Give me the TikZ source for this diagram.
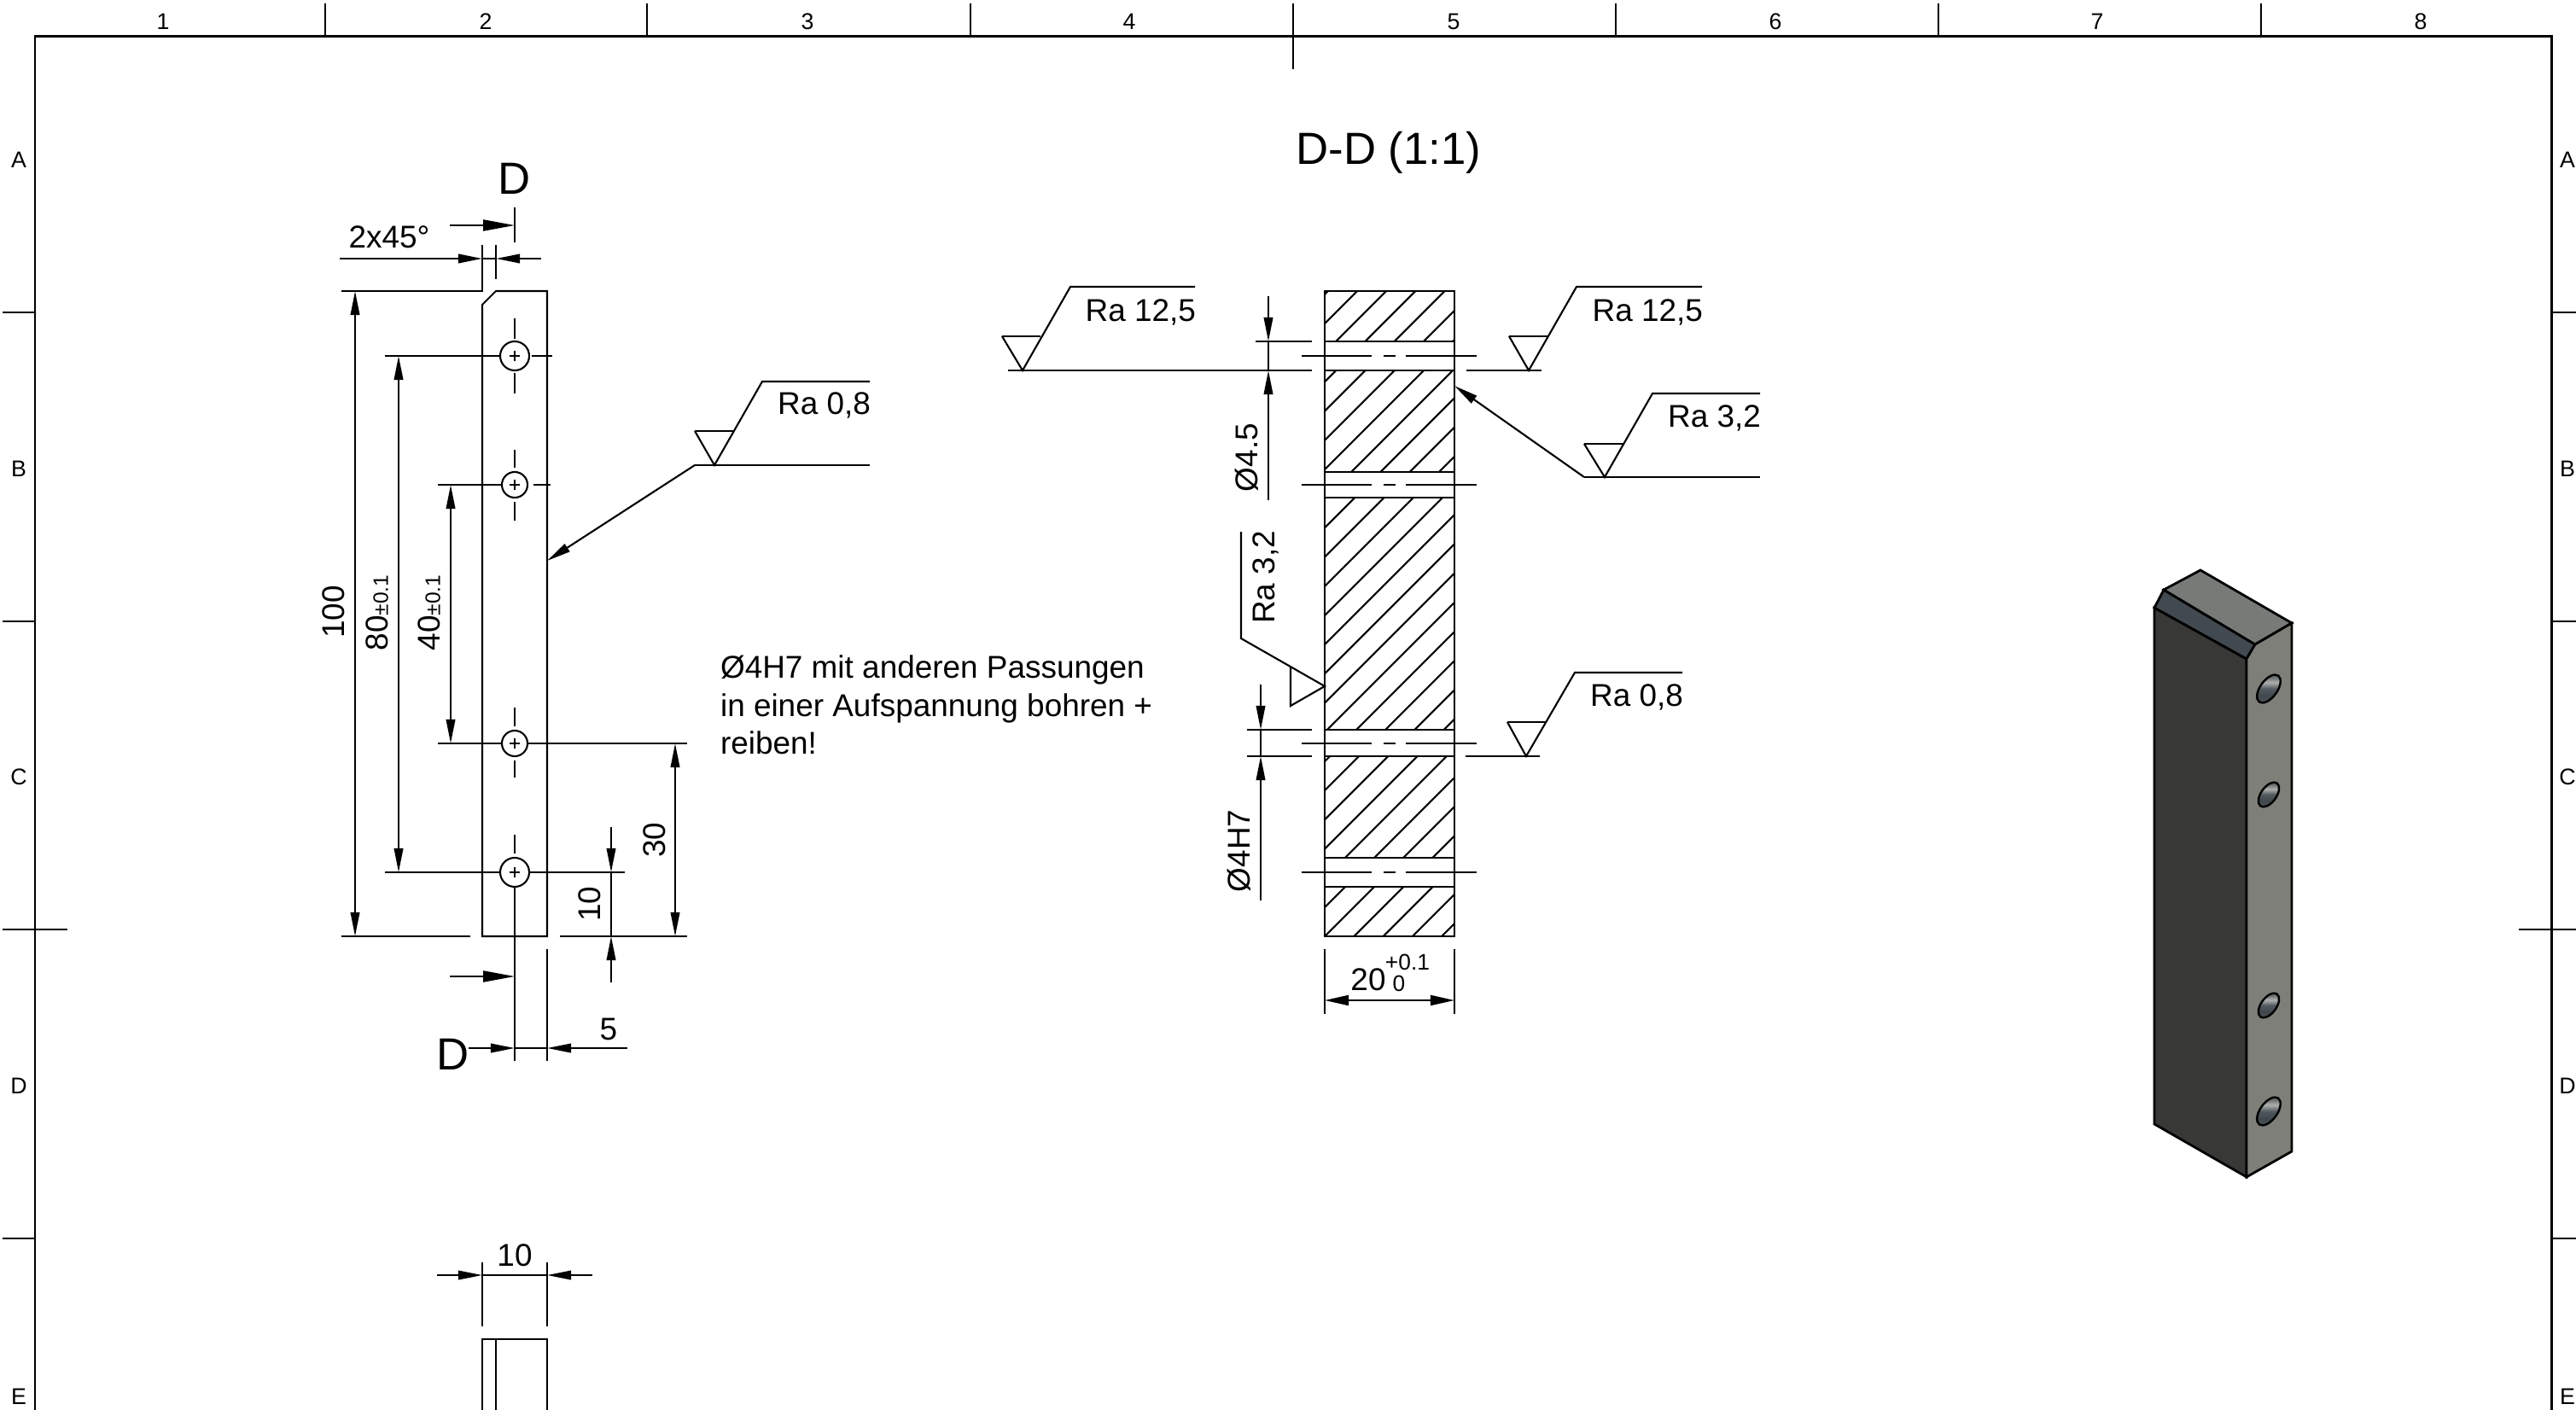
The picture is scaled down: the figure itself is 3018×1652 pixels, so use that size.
\documentclass[tikz,border=0pt]{standalone}
\usepackage{fontspec}
\setmainfont{Liberation Sans}
\usetikzlibrary{arrows.meta}
\pgfdeclareverticalshading{holeshade}{100bp}{rgb(0bp)=(0.33,0.35,0.36);rgb(25bp)=(0.33,0.35,0.36);rgb(38bp)=(0.25,0.28,0.30);rgb(50bp)=(0.32,0.35,0.37);rgb(60bp)=(0.68,0.69,0.68);rgb(68bp)=(0.42,0.44,0.45);rgb(75bp)=(0.36,0.38,0.39);rgb(100bp)=(0.36,0.38,0.39)}

\begin{document}
\begin{tikzpicture}[x=0.01cm,y=-0.01cm,line width=0.6pt,
        dimarrow/.style={-{Triangle[length=8pt,width=3pt]}},
        dimboth/.style={{Triangle[length=8pt,width=3pt]}-{Triangle[length=8pt,width=3pt]}},
        cutarrow/.style={-{Triangle[length=10.5pt,width=3.7pt]}},
        framefont/.style={inner sep=0pt,font=\fontsize{7.6}{9}\selectfont},
        lab/.style={inner sep=0pt,font=\fontsize{10.5}{12.66}\selectfont},
        tollab/.style={inner sep=0pt,font=\fontsize{7.5}{9}\selectfont},
        biglab/.style={inner sep=0pt,font=\fontsize{15}{18}\selectfont},
        framecut/.style={line width=0.85pt},
        thickline/.style={line width=0.8pt},
        holecut/.style={shading=holeshade,draw=black,line width=0.7pt}]
        \useasboundingbox(0,0)rectangle(3018,1652);

        \draw[framecut](41,1652)--(41,43)--(2989,43)--(2989,1652);
        \draw[thickline](381,4)--(381,43);
        \draw[thickline](758,4)--(758,43);
        \draw[thickline](1137,4)--(1137,43);
        \draw[thickline](1515,4)--(1515,81);
        \draw[thickline](1893,4)--(1893,43);
        \draw[thickline](2271,4)--(2271,43);
        \draw[thickline](2649,4)--(2649,43);
        \draw[thickline](3,366)--(41,366);
        \draw[thickline](3,728)--(41,728);
        \draw[thickline](3,1089)--(79,1089);
        \draw[thickline](3,1451)--(41,1451);
        \draw[thickline](2989,366)--(3018,366);
        \draw[thickline](2989,728)--(3018,728);
        \draw[thickline](2951,1089)--(3018,1089);
        \draw[thickline](2989,1451)--(3018,1451);

        \node[framefont](n1)at(191,25){1};
        \node[framefont](n2)at(569,25){2};
        \node[framefont](n3)at(946,25){3};
        \node[framefont](n4)at(1323,25){4};
        \node[framefont](n5)at(1703,25){5};
        \node[framefont](n6)at(2080,25){6};
        \node[framefont](n7)at(2457,25){7};
        \node[framefont](n8)at(2836,25){8};
        \node[framefont](la)at(22,187){A};
        \node[framefont](lb)at(22,549){B};
        \node[framefont](lc)at(22,910){C};
        \node[framefont](ld)at(22,1272){D};
        \node[framefont](le)at(22,1636){E};
        \node[framefont](ra)at(3008,187){A};
        \node[framefont](rb)at(3008,549){B};
        \node[framefont](rc)at(3008,910){C};
        \node[framefont](rd)at(3008,1272){D};
        \node[framefont](re)at(3008,1636){E};

        \node[biglab](title)at(1627,179){D-D (1:1)};

        \draw(565,357)--(581,341)--(641,341)--(641,1097)--(565,1097)--cycle;

        \draw(603,417)circle(17);
        \draw(603,568)circle(15);
        \draw(603,871)circle(15);
        \draw(603,1022)circle(17);
        \draw(597,417)--(609,417);
        \draw(603,411)--(603,423);
        \draw(597,568)--(609,568);
        \draw(603,562)--(603,574);
        \draw(597,871)--(609,871);
        \draw(603,865)--(603,877);
        \draw(597,1022)--(609,1022);
        \draw(603,1016)--(603,1028);

        \draw(603,373)--(603,397);
        \draw(603,437)--(603,461);
        \draw(623,417)--(647,417);
        \draw(603,527)--(603,548);
        \draw(603,588)--(603,610);
        \draw(625,568)--(645,568);
        \draw(603,829)--(603,851);
        \draw(603,891)--(603,911);
        \draw(603,978)--(603,1000);
        \draw(603,1039)--(603,1243);

        \draw(451,417)--(586,417);
        \draw(513,568)--(588,568);
        \draw(513,871)--(588,871);
        \draw(618,871)--(805,871);
        \draw(451,1022)--(586,1022);
        \draw(620,1022)--(732,1022);
        \draw(400,1097)--(551,1097);
        \draw(656,1097)--(805,1097);

        \draw[thickline](603,243)--(603,284);
        \draw[cutarrow](527,264)--(603,264);
        \node[biglab](dtop)at(603,209){D};
        \draw[thickline](603,1125)--(603,1163);
        \draw[cutarrow](527,1144)--(603,1144);
        \node[biglab](dbot)at(531,1235){D};

        \draw(400,341)--(565,341)--(565,287);
        \draw(581,287)--(581,327);
        \draw[dimarrow](398,303)--(565,303);
        \draw[dimarrow](634,303)--(581,303);
        \draw(565,303)--(581,303);
        \node[lab](chamfer)at(456,278){2x45°};

        \draw[dimboth](416,341)--(416,1097);
        \node[lab,rotate=90](t100)at(391,717){100};
        \draw[dimboth](467,417)--(467,1022);
        \node[lab,rotate=90](t80)at(442,718){80{\fontsize{7}{8}\selectfont ±0.1}};
        \draw[dimboth](528,568)--(528,871);
        \node[lab,rotate=90](t40)at(503,718){40{\fontsize{7}{8}\selectfont ±0.1}};
        \draw[dimboth](791,871)--(791,1097);
        \node[lab,rotate=90](t30)at(767,984){30};
        \draw[dimarrow](716,969)--(716,1022);
        \draw[dimarrow](716,1151)--(716,1097);
        \draw(716,1022)--(716,1097);
        \node[lab,rotate=90](t10)at(691,1059){10};

        \draw(641,1112)--(641,1243);
        \draw[dimarrow](549,1228)--(603,1228);
        \draw[dimarrow](735,1228)--(641,1228);
        \draw(603,1228)--(641,1228);
        \node[lab](t5)at(713,1206){5};

        \draw(814,545)--(1019,545);
        \draw(814,505)--(860,505);
        \draw(814,505)--(837,545)--(893,447)--(1019,447);
        \draw[dimarrow](814,545)--(641,657);
        \node[lab,anchor=east](ra08)at(1021,475){Ra 0,8};

        \node[lab,anchor=west,align=left](note)at(843,826){Ø4H7 mit anderen Passungen\\in einer Aufspannung bohren +\\reiben!};

        \draw(565,1479)--(565,1554);
        \draw(641,1479)--(641,1554);
        \draw(565,1494)--(641,1494);
        \draw[dimarrow](512,1494)--(565,1494);
        \draw[dimarrow](694,1494)--(641,1494);
        \node[lab](t10w)at(603,1471){10};
        \draw(565,1652)--(565,1569)--(641,1569)--(641,1652);
        \draw(581,1569)--(581,1652);

        \begin{scope}
            \clip(1552,341)rectangle(1704,400)(1552,434)rectangle(1704,553)(1552,583)rectangle(1704,855)(1552,886)rectangle(1704,1005)(1552,1039)rectangle(1704,1097);
            \foreach \k in {-1,...,25}{
                \pgfmathsetmacro\hatchsum{1931+34.2*\k}
                \draw(1552,{\hatchsum-1552})--(1704,{\hatchsum-1704});
            }
        \end{scope}
        \draw(1552,341)rectangle(1704,1097);
        \draw[thickline](1552,400)--(1704,400);
        \draw[thickline](1552,434)--(1704,434);
        \draw[thickline](1552,553)--(1704,553);
        \draw[thickline](1552,583)--(1704,583);
        \draw[thickline](1552,855)--(1704,855);
        \draw[thickline](1552,886)--(1704,886);
        \draw[thickline](1552,1005)--(1704,1005);
        \draw[thickline](1552,1039)--(1704,1039);

        \draw(1525,417)--(1607,417);
        \draw(1621,417)--(1635,417);
        \draw(1647,417)--(1730,417);
        \draw(1525,568)--(1607,568);
        \draw(1621,568)--(1635,568);
        \draw(1647,568)--(1730,568);
        \draw(1525,871)--(1607,871);
        \draw(1621,871)--(1635,871);
        \draw(1647,871)--(1730,871);
        \draw(1525,1022)--(1607,1022);
        \draw(1621,1022)--(1635,1022);
        \draw(1647,1022)--(1730,1022);

        \draw(1471,400)--(1537,400);
        \draw[thickline](1181,434)--(1537,434);
        \draw[dimarrow](1486,347)--(1486,400);
        \draw[dimarrow](1486,586)--(1486,434);
        \draw(1486,400)--(1486,434);
        \node[lab,rotate=90](d45)at(1461,536){Ø4.5};

        \draw(1174,394)--(1219,394);
        \draw(1174,394)--(1198,434)--(1254,336)--(1400,336);
        \node[lab,anchor=east](ra125l)at(1402,366){Ra 12,5};

        \draw(1718,434)--(1806,434);
        \draw(1768,394)--(1813,394);
        \draw(1768,394)--(1791,434)--(1847,336)--(1994,336);
        \node[lab,anchor=east](ra125r)at(1996,366){Ra 12,5};

        \draw(1856,559)--(2062,559);
        \draw(1856,520)--(1903,520);
        \draw(1856,520)--(1880,559)--(1936,461)--(2062,461);
        \draw[dimarrow](1856,559)--(1704,452);
        \node[lab,anchor=east](ra32r)at(2064,490){Ra 3,2};

        \draw(1454,623)--(1454,748)--(1552,804)--(1512,827)--(1512,781);
        \node[lab,rotate=90,anchor=east](ra32l)at(1483,621){Ra 3,2};

        \draw(1717,886)--(1804,886);
        \draw(1766,846)--(1811,846);
        \draw(1766,846)--(1788,886)--(1845,788)--(1971,788);
        \node[lab,anchor=east](ra08s)at(1973,817){Ra 0,8};

        \draw(1461,855)--(1537,855);
        \draw(1461,886)--(1537,886);
        \draw[dimarrow](1477,802)--(1477,855);
        \draw[dimarrow](1477,1055)--(1477,886);
        \draw(1477,855)--(1477,886);
        \node[lab,rotate=90](d4h7)at(1452,997){Ø4H7};

        \draw(1552,1112)--(1552,1188);
        \draw(1704,1112)--(1704,1188);
        \draw[{Triangle[length=8pt,width=3.4pt]}-{Triangle[length=8pt,width=3.4pt]}](1552,1172)--(1704,1172);
        \node[lab](t20)at(1603,1148){20};
        \node[tollab](tplus)at(1649,1127){+0.1};
        \node[tollab](tzero)at(1639,1152){0};

        \filldraw[fill={rgb,255:red,56;green,56;blue,54},draw=black,thickline](2524,712)--(2632,772)--(2632,1379)--(2524,1317)--cycle;
        \filldraw[fill={rgb,255:red,65;green,74;blue,80},draw=black,thickline](2524,712)--(2535,691)--(2642,755)--(2632,772)--cycle;
        \filldraw[fill={rgb,255:red,118;green,123;blue,120},draw=black,thickline](2535,691)--(2578,668)--(2685,730)--(2642,755)--cycle;
        \filldraw[fill={rgb,255:red,127;green,127;blue,122},draw=black,thickline](2632,772)--(2642,755)--(2685,730)--(2685,1349)--(2632,1379)--cycle;

        \draw[holecut,rotate around={54:(2658,807)}](2658,807)ellipse[x radius=19,y radius=10];
        \draw[holecut,rotate around={54:(2658,931)}](2658,931)ellipse[x radius=16.5,y radius=9];
        \draw[holecut,rotate around={54:(2658,1178)}](2658,1178)ellipse[x radius=16.5,y radius=9];
        \draw[holecut,rotate around={54:(2658,1302)}](2658,1302)ellipse[x radius=19,y radius=10];
\end{tikzpicture}
\end{document}
